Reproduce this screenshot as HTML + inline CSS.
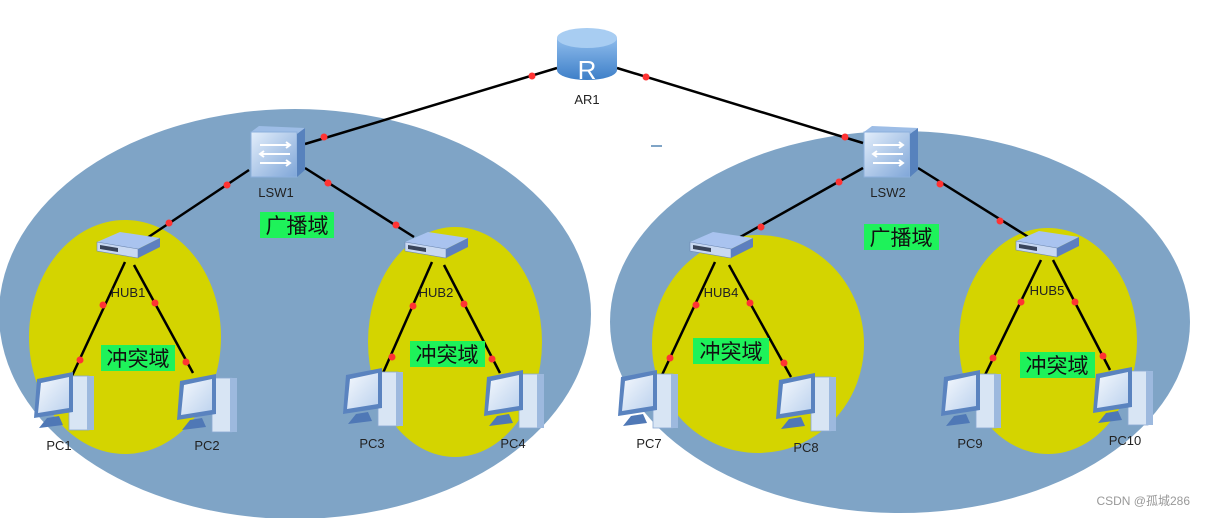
<!DOCTYPE html>
<html><head><meta charset="utf-8"><style>
html,body{margin:0;padding:0;background:#fff;width:1205px;height:518px;overflow:hidden}
svg{display:block}
text{font-family:"Liberation Sans","Noto Sans CJK SC",sans-serif}
</style></head><body>
<svg width="1205" height="518" viewBox="0 0 1205 518">
<defs>
<linearGradient id="swg" x1="0" y1="0" x2="1" y2="1"><stop offset="0" stop-color="#e3eefb"/><stop offset="1" stop-color="#7fa6d8"/></linearGradient>
<linearGradient id="rg" x1="0" y1="0" x2="0" y2="1"><stop offset="0" stop-color="#8fbcec"/><stop offset="1" stop-color="#3d7fc8"/></linearGradient>
<linearGradient id="scr" x1="0" y1="0" x2="1" y2="1"><stop offset="0" stop-color="#f4f8fd"/><stop offset="1" stop-color="#bcd2ee"/></linearGradient>
<g id="pc">
 <rect x="36" y="4" width="20" height="54" fill="#d8e5f4" stroke="#8aa8d2" stroke-width="0.8"/>
 <rect x="54" y="4" width="7" height="54" fill="#9db9de"/>
 <path d="M4,7 L40,0 L40,40 L1,46 Z" fill="#5a83bf"/>
 <path d="M8,11 L36,5 L36,36 L5,41 Z" fill="url(#scr)"/>
 <path d="M14,46 L26,44 L30,53 L6,56 Z" fill="#4f78b6"/>
</g>
<g id="hub">
 <path d="M-31,-6 L-8,-16 L32,-10 L10,1 Z" fill="#a9c3ef"/>
 <path d="M-31,-6 L10,1 L10,10 L-31,3 Z" fill="#c8d8f2" stroke="#6c87b5" stroke-width="0.6"/>
 <path d="M10,1 L32,-10 L32,-1 L10,10 Z" fill="#5d7fbf"/>
 <path d="M-28,-3 L-10,0 L-10,4 L-28,1 Z" fill="#39445a"/>
</g>
<g id="sw">
 <path d="M-26,-20 L-18,-26 L28,-24 L20,-18 Z" fill="#9dbde6"/>
 <rect x="-26" y="-20" width="46" height="45" fill="url(#swg)" stroke="#8cb0dc"/>
 <path d="M20,-18 L28,-24 L28,18 L20,25 Z" fill="#5782bd"/>
 <path d="M-17,-7 L13,-7 M9,-10 L13,-7 L9,-4 M13,2 L-17,2 M-13,-1 L-17,2 L-13,5 M-17,11 L13,11 M9,8 L13,11 L9,14" stroke="#fff" stroke-width="2" fill="none"/>
</g>
</defs>
<ellipse cx="295" cy="314" rx="296" ry="205" fill="#7fa4c6"/>
<ellipse cx="900" cy="322" rx="290" ry="191" fill="#7fa4c6"/>
<ellipse cx="125" cy="337" rx="96" ry="117" fill="#d4d400"/>
<ellipse cx="455" cy="342" rx="87" ry="115" fill="#d4d400"/>
<ellipse cx="758" cy="344" rx="106" ry="109" fill="#d4d400"/>
<ellipse cx="1048" cy="341" rx="89" ry="113" fill="#d4d400"/>
<g stroke="#000" stroke-width="2.5" fill="none">
<line x1="557" y1="68" x2="305" y2="144"/>
<line x1="617" y1="68" x2="863" y2="143"/>
<line x1="249" y1="170" x2="147" y2="238"/>
<line x1="305" y1="168" x2="414" y2="237"/>
<line x1="863" y1="168" x2="735" y2="240"/>
<line x1="918" y1="168" x2="1030" y2="238"/>
<line x1="125" y1="262" x2="71" y2="378"/>
<line x1="134" y1="265" x2="193" y2="373"/>
<line x1="432" y1="262" x2="383" y2="373"/>
<line x1="444" y1="265" x2="500" y2="373"/>
<line x1="715" y1="262" x2="662" y2="375"/>
<line x1="729" y1="265" x2="791" y2="377"/>
<line x1="1041" y1="260" x2="985" y2="375"/>
<line x1="1053" y1="260" x2="1110" y2="370"/>
</g>
<g fill="#f33">
<circle cx="532" cy="76" r="3.5"/><circle cx="646" cy="77" r="3.5"/>
<circle cx="324" cy="137" r="3.5"/><circle cx="845" cy="137" r="3.5"/>
<circle cx="227" cy="185" r="3.5"/><circle cx="169" cy="223" r="3.5"/>
<circle cx="328" cy="183" r="3.5"/><circle cx="396" cy="225" r="3.5"/>
<circle cx="839" cy="182" r="3.5"/><circle cx="761" cy="227" r="3.5"/>
<circle cx="940" cy="184" r="3.5"/><circle cx="1000" cy="221" r="3.5"/>
<circle cx="103" cy="305" r="3.5"/><circle cx="155" cy="303" r="3.5"/>
<circle cx="80" cy="360" r="3.5"/><circle cx="186" cy="362" r="3.5"/>
<circle cx="413" cy="306" r="3.5"/><circle cx="464" cy="304" r="3.5"/>
<circle cx="392" cy="357" r="3.5"/><circle cx="492" cy="359" r="3.5"/>
<circle cx="696" cy="305" r="3.5"/><circle cx="750" cy="303" r="3.5"/>
<circle cx="670" cy="358" r="3.5"/><circle cx="784" cy="363" r="3.5"/>
<circle cx="1021" cy="302" r="3.5"/><circle cx="1075" cy="302" r="3.5"/>
<circle cx="993" cy="358" r="3.5"/><circle cx="1103" cy="356" r="3.5"/>
</g>
<g>
 <path d="M557,38 L557,70 A30,10 0 0 0 617,70 L617,38 Z" fill="url(#rg)"/>
 <ellipse cx="587" cy="38" rx="30" ry="10" fill="#a8cdf2"/>
 <text x="587" y="79" font-size="26" fill="#fff" text-anchor="middle">R</text>
 <text x="587" y="104" font-size="13" fill="#222" text-anchor="middle">AR1</text>
</g>
<rect x="651" y="145" width="11" height="2" fill="#7fa4c6"/>
<use href="#sw" x="277" y="152"/>
<use href="#sw" x="890" y="152"/>
<use href="#hub" x="128" y="248"/><use href="#hub" x="436" y="248"/>
<use href="#hub" x="721" y="248"/><use href="#hub" x="1047" y="247"/>
<use href="#pc" x="33" y="372"/><use href="#pc" x="176" y="374"/>
<use href="#pc" x="342" y="368"/><use href="#pc" x="483" y="370"/>
<use href="#pc" x="617" y="370"/><use href="#pc" x="775" y="373"/>
<use href="#pc" x="940" y="370"/><use href="#pc" x="1092" y="367"/>
<g font-size="13" fill="#222" text-anchor="middle">
<text x="276" y="197">LSW1</text><text x="888" y="197">LSW2</text>
<text x="128" y="297">HUB1</text><text x="436" y="297">HUB2</text>
<text x="721" y="297">HUB4</text><text x="1047" y="295">HUB5</text>
<text x="59" y="450">PC1</text><text x="207" y="450">PC2</text>
<text x="372" y="448">PC3</text><text x="513" y="448">PC4</text>
<text x="649" y="448">PC7</text><text x="806" y="452">PC8</text>
<text x="970" y="448">PC9</text><text x="1125" y="445">PC10</text>
</g>
<g fill="#1ef25a">
<rect x="260" y="212" width="74" height="26"/><rect x="864" y="224" width="75" height="26"/>
<rect x="101" y="345" width="74" height="26"/><rect x="410" y="341" width="75" height="26"/>
<rect x="693" y="338" width="76" height="26"/><rect x="1020" y="352" width="75" height="26"/>
</g>
<g font-size="21" fill="#111" text-anchor="middle">
<text x="297" y="233">广播域</text><text x="901" y="245">广播域</text>
<text x="138" y="366">冲突域</text><text x="447" y="362">冲突域</text>
<text x="731" y="359">冲突域</text><text x="1057" y="373">冲突域</text>
</g>
<text x="1190" y="505" font-size="12" fill="#999" text-anchor="end">CSDN @孤城286</text>
</svg>
</body></html>
